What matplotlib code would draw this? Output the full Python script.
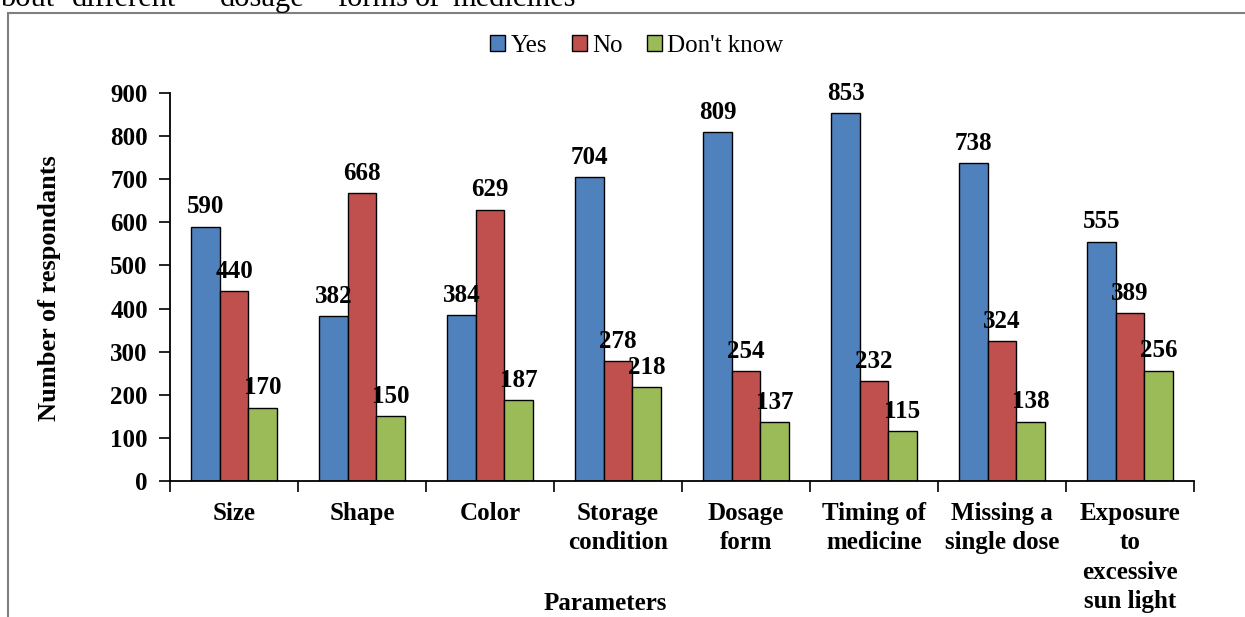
import matplotlib
matplotlib.use("Agg")
import matplotlib.pyplot as plt
import numpy as np
from matplotlib.patches import Rectangle

categories = ["Size", "Shape", "Color", "Storage\ncondition", "Dosage\nform",
              "Timing of\nmedicine", "Missing a\nsingle dose", "Exposure\nto\nexcessive\nsun light"]
yes_vals = [590, 382, 384, 704, 809, 853, 738, 555]
no_vals = [440, 668, 629, 278, 254, 232, 324, 389]
dk_vals = [170, 150, 187, 218, 137, 115, 138, 256]
series_names = ["Yes", "No", "Don't know"]
colors = ["#4F81BD", "#C0504D", "#9BBB59"]
yticks = [0, 100, 200, 300, 400, 500, 600, 700, 800, 900]
top_words = ["bout", "different", "dosage", "forms", "of", "medicines"]
top_word_x = [0, 72, 220, 337, 415, 452]

W, H = 1245, 617
fig = plt.figure(figsize=(W / 100, H / 100), dpi=100)
plt.rcParams['font.family'] = ['Liberation Serif', 'DejaVu Serif']

ax = fig.add_axes([170 / W, 1 - 481 / H, (1194 - 170) / W, (481 - 93) / H])

n = len(categories)
x = np.arange(n) + 0.5
bw = 0.222
series = [yes_vals, no_vals, dk_vals]
handles = []
for i, (vals, name, c) in enumerate(zip(series, series_names, colors)):
    pos = x + (i - 1) * bw
    b = ax.bar(pos, vals, width=bw, color=c, edgecolor="black", linewidth=1.0,
               label=name, zorder=2)
    handles.append(b)
    for px, v in zip(pos, vals):
        ax.annotate(str(v), (px, v), xytext=(0, 6), textcoords="offset points",
                    ha="center", va="bottom", fontsize=18, fontweight="bold")

ax.set_xlim(0, n)
ax.set_ylim(0, 900)
ax.set_yticks(yticks)
ax.set_yticklabels([str(t) for t in yticks], fontsize=18, fontweight="bold")
ax.set_xticks(np.arange(n + 1))
ax.set_xticklabels([])
ax.set_xticks(x, minor=True)
ax.set_xticklabels(categories, minor=True, fontsize=18, fontweight="bold",
                   linespacing=1.36, va="top")
ax.tick_params(axis="x", which="minor", length=0, pad=15)
ax.tick_params(axis="x", which="major", length=8, width=1.2, direction="out")
ax.tick_params(axis="y", length=8, width=1.2, direction="out", pad=8)
for s in ["top", "right"]:
    ax.spines[s].set_visible(False)
for s in ["left", "bottom"]:
    ax.spines[s].set_linewidth(1.3)
    ax.spines[s].set_zorder(3)

fig.text(50 / W, 1 - 288 / H, "Number of respondants", rotation=90,
         ha="center", va="center", fontsize=19, fontweight="bold")
fig.text(605 / W, 1 - 604 / H, "Parameters", ha="center", va="center",
         fontsize=18, fontweight="bold")

leg = fig.legend(handles=handles, labels=series_names, loc="center",
                 bbox_to_anchor=(637 / W, 1 - 46 / H), ncol=3, frameon=False,
                 fontsize=18, handlelength=0.6, handleheight=0.6,
                 handletextpad=0.2, columnspacing=1.0)

# outer border of the chart area
fig.patches.append(Rectangle((8 / W, -0.1), 1.2, 1 - 13 / H + 0.1,
                             transform=fig.transFigure, fill=False,
                             edgecolor="#7f7f7f", linewidth=1.5, clip_on=False))

# partially visible caption text at the top (cut off in the reference)
for w, wx in zip(top_words, top_word_x):
    fig.text(wx / W, 1 - 6 / H, w, ha="left", va="baseline", fontsize=22)

fig.savefig("out.png", dpi=100)
